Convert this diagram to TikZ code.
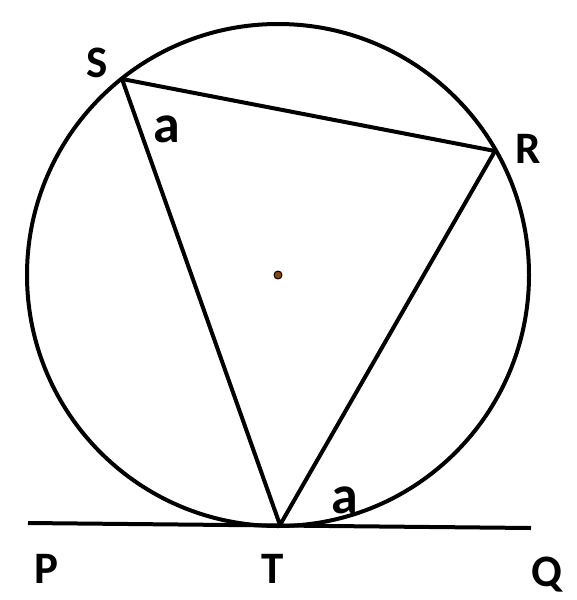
\documentclass[tikz,border=0pt]{standalone}
\usepackage{fontspec}
\setmainfont{Carlito}
\usepackage{tikz}

\definecolor{centrebrown}{RGB}{140,70,10}

\begin{document}
\begin{tikzpicture}[
    x = 1pt, y = -1pt,
    line width = 4pt,
    line join = round,
    %
    letter/.style = {inner sep = 0pt, anchor = base,
      font = \fontsize{45}{54}\selectfont\bfseries},
    angle/.style = {inner sep = 0pt, anchor = base,
      font = \fontsize{54}{64}\selectfont\bfseries},
    ]

    \useasboundingbox (0, 0) rectangle (577, 600);

    \coordinate (O) at (278, 275);
    \coordinate (S) at (122, 79);
    \coordinate (R) at (495, 151);
    \coordinate (T) at (280, 525);
    \coordinate (P_end) at (28, 523);
    \coordinate (Q_end) at (531, 528);

    \draw (O) circle [radius = 251];
    \draw (S) -- (R) -- (T) -- cycle;
    \draw (P_end) -- (Q_end);

    \filldraw [fill = centrebrown, draw = black, line width = 1pt]
    (O) circle [radius = 4];

    \node at (97, 77) [letter, name = lab_S] {S};
    \node at (528, 163) [letter, name = lab_R] {R};
    \node at (46, 583) [letter, name = lab_P] {P};
    \node at (273, 583) [letter, name = lab_T] {T};
    \node at (547, 586) [letter, name = lab_Q] {Q};

    \node at (167, 142) [angle, name = ang_S] {a};
    \node at (345, 513) [angle, name = ang_T] {a};

  \end{tikzpicture}
\end{document}
